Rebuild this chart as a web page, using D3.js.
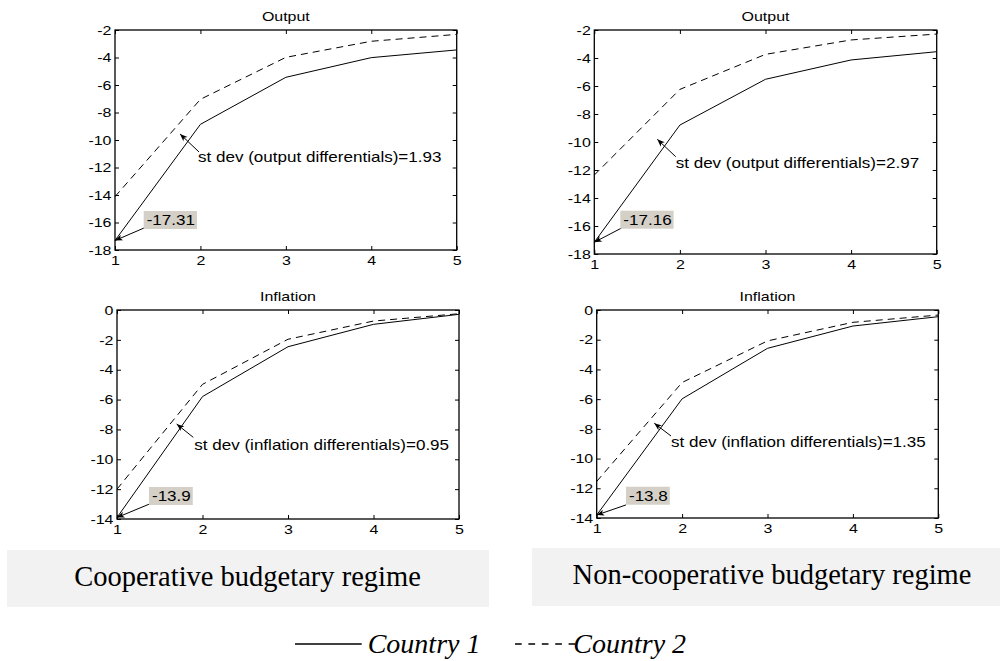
<!DOCTYPE html>
<html><head><meta charset="utf-8">
<script src="https://cdn.jsdelivr.net/npm/d3@7"></script>
<style>
body{margin:0;background:#fff}
svg{display:block}
.ml{font-family:"Liberation Sans",Arial,Helvetica,sans-serif;fill:#000}
.tr{font-family:"Liberation Serif","Times New Roman",serif;fill:#000}
</style>
</head><body>
<svg id="chart" width="1000" height="661"></svg>
<script>
// ---------------- data ----------------
const periods = [1, 2, 3, 4, 5];
const xTickValues = [1, 2, 3, 4, 5];
const outputTicks = [-18, -16, -14, -12, -10, -8, -6, -4, -2];
const inflationTicks = [-14, -12, -10, -8, -6, -4, -2, 0];

const outputCoopCountry1 = [-17.31, -8.86, -5.44, -4.01, -3.45];
const outputCoopCountry2 = [-14.12, -7.04, -3.99, -2.82, -2.32];
const outputNonCoopCountry1 = [-17.16, -8.79, -5.52, -4.14, -3.55];
const outputNonCoopCountry2 = [-12.36, -6.24, -3.74, -2.71, -2.29];
const inflationCoopCountry1 = [-13.9, -5.80, -2.46, -0.96, -0.29];
const inflationCoopCountry2 = [-12.0, -4.98, -1.96, -0.74, -0.25];
const inflationNonCoopCountry1 = [-13.8, -5.98, -2.58, -1.08, -0.45];
const inflationNonCoopCountry2 = [-11.54, -4.88, -2.08, -0.83, -0.34];

const panelTitles = ["Output", "Output", "Inflation", "Inflation"];
const stdevLabels = [
  "st dev (output differentials)=1.93",
  "st dev (output differentials)=2.97",
  "st dev (inflation differentials)=0.95",
  "st dev (inflation differentials)=1.35"
];
const minLabels = ["-17.31", "-17.16", "-13.9", "-13.8"];
const regimeLabels = ["Cooperative budgetary regime", "Non-cooperative budgetary regime"];
const legendLabels = ["Country 1", "Country 2"];

// ---------------- layout ----------------
const panels = [
  {c1: outputCoopCountry1, c2: outputCoopCountry2, yDomain: [-18, -2], yTicks: outputTicks,
   box: {l: 115, r: 456.7, t: 30, b: 250},
   stText: [1.972, -11.6], stTail: [1.983, -10.87], stHead: [1.761, -9.56],
   mText: [1.371, -15.82], mTail: [1.34, -16.4]},
  {c1: outputNonCoopCountry1, c2: outputNonCoopCountry2, yDomain: [-18, -2], yTicks: outputTicks,
   box: {l: 594.3, r: 936.7, t: 30, b: 254},
   stText: [1.951, -11.88], stTail: [1.951, -11.05], stHead: [1.736, -9.81],
   mText: [1.339, -15.55], mTail: [1.32, -16.14]},
  {c1: inflationCoopCountry1, c2: inflationCoopCountry2, yDomain: [-14, 0], yTicks: inflationTicks,
   box: {l: 117, r: 459, t: 310, b: 519},
   stText: [1.904, -9.38], stTail: [1.892, -8.53], stHead: [1.698, -7.64],
   mText: [1.409, -12.46], mTail: [1.374, -13.01]},
  {c1: inflationNonCoopCountry1, c2: inflationNonCoopCountry2, yDomain: [-14, 0], yTicks: inflationTicks,
   box: {l: 596.7, r: 938.3, t: 310, b: 518},
   stText: [1.87, -9.24], stTail: [1.87, -8.48], stHead: [1.674, -7.62],
   mText: [1.378, -12.5], mTail: [1.343, -13.12]}
];
const SX = 1.2;          // horizontal stretch of the sans text
const tickFont = 13.3, annFont = 14.2;

const svg = d3.select("#chart");
svg.append("rect").attr("width", 1000).attr("height", 661).attr("fill", "#fff");

const defs = svg.append("defs");
defs.append("marker").attr("id", "ah")
  .attr("viewBox", "-8 -4 9 8").attr("refX", 0).attr("refY", 0)
  .attr("markerUnits", "userSpaceOnUse").attr("markerWidth", 9).attr("markerHeight", 8)
  .attr("orient", "auto")
  .append("path").attr("d", "M0,0 L-7.5,-3 L-5.5,0 L-7.5,3 Z").attr("fill", "#000");

function stretch(sel) {
  sel.each(function () {
    const t = d3.select(this);
    const x = +t.attr("x") || 0, y = +t.attr("y") || 0;
    t.attr("x", 0).attr("y", 0).attr("transform", `translate(${x},${y}) scale(${SX},1)`);
  });
}

panels.forEach((p, i) => {
  const b = p.box;
  const x = d3.scaleLinear().domain([1, 5]).range([b.l, b.r]);
  const y = d3.scaleLinear().domain(p.yDomain).range([b.b, b.t]);
  const g = svg.append("g");

  // axes (MATLAB-style inward ticks on all sides)
  const ax = [
    g.append("g").attr("transform", `translate(0,${b.b})`)
      .call(d3.axisBottom(x).tickValues(xTickValues).tickSizeInner(-4).tickSizeOuter(0).tickPadding(6).tickFormat(d3.format("d"))),
    g.append("g").attr("transform", `translate(${b.l},0)`)
      .call(d3.axisLeft(y).tickValues(p.yTicks).tickSizeInner(-4).tickSizeOuter(0).tickPadding(3.5).tickFormat(d => d3.format("d")(d).replace("−", "-"))),
    g.append("g").attr("transform", `translate(0,${b.t})`)
      .call(d3.axisTop(x).tickValues(xTickValues).tickSizeInner(-4).tickSizeOuter(0).tickFormat("")),
    g.append("g").attr("transform", `translate(${b.r},0)`)
      .call(d3.axisRight(y).tickValues(p.yTicks).tickSizeInner(-4).tickSizeOuter(0).tickFormat(""))
  ];
  ax.forEach(a => {
    a.select(".domain").remove();
    a.selectAll("line").attr("stroke", "#000").attr("stroke-width", 1);
    a.selectAll("text").attr("class", "ml").attr("font-size", tickFont).attr("font-family", null).attr("fill", "#000");
    stretch(a.selectAll("text"));
  });

  g.append("rect").attr("x", b.l).attr("y", b.t).attr("width", b.r - b.l).attr("height", b.b - b.t)
    .attr("fill", "none").attr("stroke", "#000").attr("stroke-width", 1.3);

  // title
  const tt = g.append("text").attr("class", "ml").attr("font-size", tickFont)
    .attr("text-anchor", "middle").attr("x", (b.l + b.r) / 2).attr("y", b.t - 9.5).text(panelTitles[i]);
  stretch(tt);

  // series
  const line = d3.line().x((d, k) => x(periods[k])).y(d => y(d));
  g.append("path").datum(p.c2).attr("d", line).attr("fill", "none").attr("stroke", "#000")
    .attr("stroke-width", 1).attr("stroke-dasharray", "7,5");
  g.append("path").datum(p.c1).attr("d", line).attr("fill", "none").attr("stroke", "#000")
    .attr("stroke-width", 1);

  // st dev annotation
  g.append("line").attr("x1", x(p.stTail[0])).attr("y1", y(p.stTail[1]))
    .attr("x2", x(p.stHead[0])).attr("y2", y(p.stHead[1]))
    .attr("stroke", "#000").attr("stroke-width", 1).attr("marker-end", "url(#ah)");
  const st = g.append("text").attr("class", "ml").attr("font-size", annFont)
    .attr("x", x(p.stText[0])).attr("y", y(p.stText[1])).text(stdevLabels[i]);
  stretch(st);

  // minimum value annotation
  g.append("line").attr("x1", x(p.mTail[0])).attr("y1", y(p.mTail[1]))
    .attr("x2", x(1)).attr("y2", y(p.c1[0]))
    .attr("stroke", "#000").attr("stroke-width", 1).attr("marker-end", "url(#ah)");
  const lb = g.append("g");
  const bg = lb.append("rect").attr("fill", "#d4d0c8");
  const mt = lb.append("text").attr("class", "ml").attr("font-size", annFont)
    .attr("x", x(p.mText[0])).attr("y", y(p.mText[1])).attr("dy", "0.36em").text(minLabels[i]);
  const w = mt.node().getComputedTextLength() * SX;
  stretch(mt);
  bg.attr("x", x(p.mText[0]) - 3).attr("y", y(p.mText[1]) - 9)
    .attr("width", w + 5).attr("height", 18);
});

// regime boxes
const regimeBoxes = [{l: 7, r: 489, t: 550, b: 607, cx: 247.5, base: 586},
                     {l: 532, r: 1000, t: 548, b: 606, cx: 772, base: 584}];
regimeBoxes.forEach((rb, i) => {
  svg.append("rect").attr("x", rb.l).attr("y", rb.t).attr("width", rb.r - rb.l).attr("height", rb.b - rb.t)
    .attr("fill", "#f2f2f2");
  svg.append("text").attr("class", "tr").attr("font-size", 28.5).attr("text-anchor", "middle")
    .attr("x", rb.cx).attr("y", rb.base).text(regimeLabels[i]);
});

// legend
const legendItems = [{x1: 295, x2: 361.7, tx: 367.7, dash: null},
                     {x1: 515, x2: 575, tx: 573.3, dash: "6.7,6.7"}];
legendItems.forEach((li, i) => {
  svg.append("line").attr("x1", li.x1).attr("x2", li.x2).attr("y1", 644).attr("y2", 644)
    .attr("stroke", "#000").attr("stroke-width", 1.3).attr("stroke-dasharray", li.dash);
  svg.append("text").attr("class", "tr").attr("font-size", 28).attr("font-style", "italic")
    .attr("x", li.tx).attr("y", 653).text(legendLabels[i]);
});
</script>
</body></html>
